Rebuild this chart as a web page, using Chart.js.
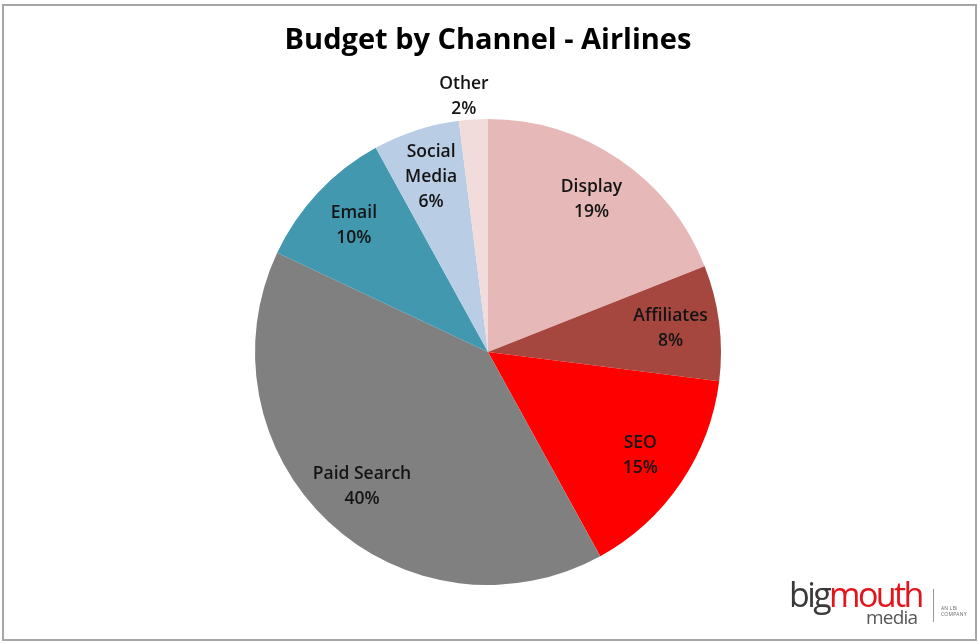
<!DOCTYPE html>
<html>
<head>
<meta charset="utf-8">
<script src="https://cdn.jsdelivr.net/npm/chart.js@4/dist/chart.umd.min.js"></script>
<style>
  html, body { margin: 0; padding: 0; background: #fff; }
  #wrap { position: relative; width: 979px; height: 644px; overflow: hidden; }
  #frame { position: absolute; left: 2px; top: 4px; width: 971px; height: 633px; border: 2px solid #a6a6a6; }
  #chart { position: absolute; left: 0; top: 0; }
  .logo { position: absolute; font-family: "Open Sans", sans-serif; }
  #big { left: 789px; top: 574px; font-size: 34px; letter-spacing: -2.6px; line-height: 40px; color: #3a3a3a; }
  #big span { color: #e3141b; }
  #media { left: 866px; top: 606px; font-size: 19px; letter-spacing: -0.8px; line-height: 22px; color: #555; }
  #bar { left: 933px; top: 589px; width: 1px; height: 33px; background: #999; }
  #lbi { left: 941px; top: 605px; font-size: 5px; line-height: 6px; color: #666; letter-spacing: 0.2px; }
</style>
</head>
<body>
<div id="wrap">
  <canvas id="chart" width="979" height="644"></canvas>
  <div id="frame"></div>
  <div class="logo" id="big">big<span>mouth</span></div>
  <div class="logo" id="media">media</div>
  <div class="logo" id="bar"></div>
  <div class="logo" id="lbi">AN LBi<br>COMPANY</div>
</div>
<script>
// Budget split by channel, percent of total, clockwise from 12 o'clock
const channels = ["Display", "Affiliates", "SEO", "Paid Search", "Email", "Social Media", "Other"];
const shares = [19, 8, 15, 40, 10, 6, 2];
const sliceColors = ["#e6b9b8", "#a5473f", "#ff0000", "#808080", "#4298af", "#b9cde5", "#f2dcdb"];

// Label lines per channel (long names wrap onto two lines)
function labelLines(name, value) {
  const parts = name === "Social Media" ? ["Social", "Media"] : [name];
  return parts.concat([value + "%"]);
}

// Draws category name + percentage on each slice; tiny slices get their label outside
const sliceLabels = {
  id: "sliceLabels",
  afterDatasetsDraw(chart) {
    const { ctx } = chart;
    const meta = chart.getDatasetMeta(0);
    ctx.save();
    ctx.font = "600 17.5px 'Open Sans', sans-serif";
    ctx.fillStyle = "#141414";
    ctx.textAlign = "center";
    ctx.textBaseline = "middle";
    meta.data.forEach((arc, i) => {
      const v = shares[i];
      const mid = (arc.startAngle + arc.endAngle) / 2;
      const outside = v < 3;
      const r = outside ? arc.outerRadius * 1.1 : arc.outerRadius * 0.79;
      let x = arc.x + Math.cos(mid) * r;
      const y = arc.y + Math.sin(mid) * r;
      if (outside) x -= 8;
      const lines = labelLines(channels[i], v);
      const lh = 25;
      const y0 = y - (lines.length - 1) * lh / 2;
      lines.forEach((t, k) => ctx.fillText(t, x, y0 + k * lh));
    });
    ctx.restore();
  }
};

new Chart(document.getElementById("chart"), {
  type: "pie",
  data: {
    labels: channels,
    datasets: [{
      data: shares,
      backgroundColor: sliceColors,
      borderWidth: 0
    }]
  },
  options: {
    responsive: false,
    animation: false,
    layout: { padding: { top: 0, bottom: 59, left: 0, right: 3 } },
    plugins: {
      legend: { display: false },
      tooltip: { enabled: false },
      title: {
        display: true,
        text: "Budget by Channel - Airlines",
        color: "#000",
        font: { family: "'Open Sans', sans-serif", size: 29, weight: "bold", lineHeight: 1.2 },
        padding: { top: 23, bottom: 61.2 }
      }
    }
  },
  plugins: [sliceLabels]
});
</script>
</body>
</html>
